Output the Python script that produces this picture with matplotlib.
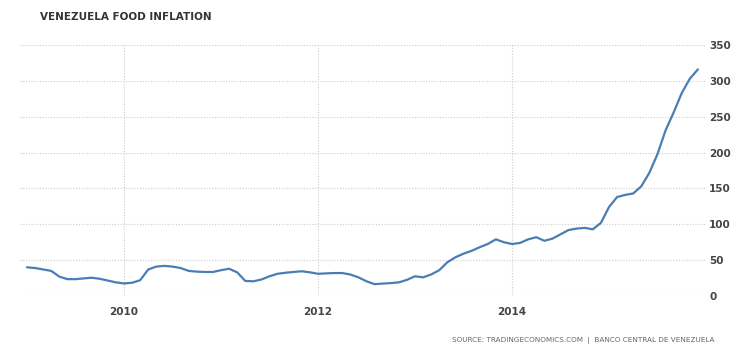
import matplotlib
matplotlib.use("Agg")
import matplotlib.pyplot as plt
import numpy as np

# Monthly food inflation (%), Jan 2009 - Dec 2015
start_year = 2009
values = [40, 39, 37, 35, 27, 23.5, 23.5, 24.5, 25.5, 24, 21.5, 19,
          17.5, 18.5, 22, 37, 41, 42, 41, 39, 35, 34, 33.5, 33.5,
          36, 38, 33, 21, 20.5, 23, 27.5, 31, 32.5, 33.5, 34.5, 33,
          31, 31.5, 32, 32, 30, 26, 20.5, 16.5, 17.3, 18, 19, 22.5,
          27.5, 26, 30, 36, 47, 54, 59, 63, 68, 72.5, 79, 75,
          72.5, 74, 79, 82, 77, 80, 86, 92, 94, 95, 93, 102,
          124, 138, 141, 143, 153, 172, 198, 231, 256, 283, 303, 316]
xticks = [2010, 2012, 2014]
xtick_labels = ["2010", "2012", "2014"]
yticks = [0, 50, 100, 150, 200, 250, 300, 350]
ytick_labels = [str(v) for v in yticks]
title = "VENEZUELA FOOD INFLATION"
source = "SOURCE: TRADINGECONOMICS.COM  |  BANCO CENTRAL DE VENEZUELA"

t = start_year + np.arange(len(values)) / 12.0

W, H = 743, 360
fig = plt.figure(figsize=(W / 100, H / 100), dpi=100)
ax = fig.add_axes([20 / W, 1 - 296 / H, (705 - 20) / W, (296 - 45) / H])

ax.plot(t, values, color="#4a7db3", lw=1.6, solid_capstyle="round")

ax.set_xlim(start_year - 7 / 97, start_year + (705 - 27) / 97)
ax.set_ylim(0, 350)
ax.set_xticks(xticks)
ax.set_xticklabels(xtick_labels)
ax.set_yticks(yticks)
ax.set_yticklabels(ytick_labels)
ax.yaxis.tick_right()
for s in ax.spines.values():
    s.set_visible(False)
ax.tick_params(axis="both", length=0, labelsize=7.5, colors="#444444")
ax.tick_params(axis="x", pad=8)
ax.tick_params(axis="y", pad=3)
for lbl in ax.get_xticklabels() + ax.get_yticklabels():
    lbl.set_fontweight("bold")
    lbl.set_color("#444444")
ax.grid(True, color="#cccccc", linestyle=(0, (1, 1.5)), linewidth=0.8)
ax.set_axisbelow(True)

fig.text(40 / W, 1 - 17 / H, title, fontsize=7.5, fontweight="bold",
         color="#333333", va="center", ha="left")
fig.text(715 / W, 1 - 340 / H, source, fontsize=5.2, color="#666666",
         va="center", ha="right")

fig.savefig("out.png", dpi=100)
